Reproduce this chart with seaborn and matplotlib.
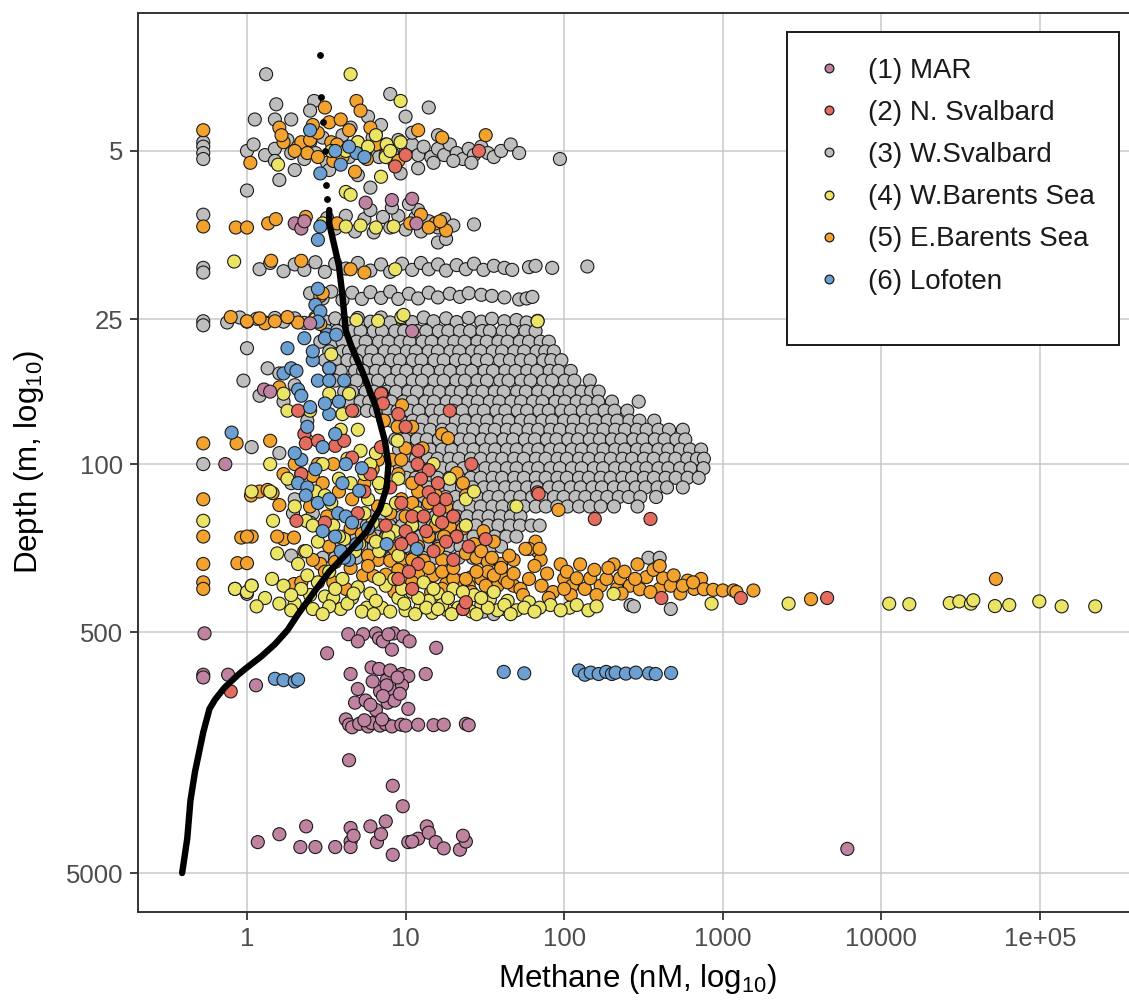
import matplotlib
matplotlib.use("Agg")
import matplotlib.pyplot as plt
import seaborn as sns
import pandas as pd
from matplotlib.lines import Line2D
from matplotlib.patches import Rectangle

# ---------------- categories / styling data ----------------
regions = ["(1) MAR", "(2) N. Svalbard", "(3) W.Svalbard",
           "(4) W.Barents Sea", "(5) E.Barents Sea", "(6) Lofoten"]
region_colors = ["#bf82a0", "#e46c5f", "#bebebe", "#ebe464", "#f2a22d", "#6ca0d2"]

x_ticks = [1, 10, 100, 1000, 10000, 100000]
x_tick_labels = ["1", "10", "100", "1000", "10000", "1e+05"]
y_ticks = [5, 25, 100, 500, 5000]
y_tick_labels = ["5", "25", "100", "500", "5000"]

# ---------------- (3) W.Svalbard : (methane nM, depth m) ----------------
wsv_shallow = [
    (1.32, 2.4), (1.53, 3.2), (2.65, 3.1), (8, 2.9), (14, 3.3), (10, 3.6), (5.8, 3.6),
    (1.12, 3.7), (1.5, 3.7), (1.9, 3.7), (2.5, 3.4),
    (0.53, 4.6), (0.53, 4.8), (0.53, 5.1), (0.53, 5.4),
    (1.0, 5.0), (1.1, 4.7), (1.3, 5.2), (1.5, 4.9), (1.5, 5.5), (1.8, 4.5), (1.9, 5.1),
    (2.1, 4.8), (2.3, 5.4), (2.5, 4.6), (2.7, 5.1), (3.0, 4.4), (3.2, 5.6), (3.6, 4.8),
    (4.0, 4.3), (4.4, 5.3), (5.0, 4.6), (5.6, 5.0), (6.2, 4.4), (6.8, 5.3), (7.5, 4.7),
    (8.2, 5.1), (9.0, 4.5), (10, 5.0), (11, 4.7), (12, 5.2), (13, 4.8), (14.5, 5.3),
    (16, 4.9), (17.5, 5.2), (19, 4.7), (21, 5.1), (23, 5.4), (25, 4.9), (27, 5.2),
    (30, 4.8), (33, 5.1), (36, 5.3), (40, 5.0), (46, 4.7), (52, 5.1), (94, 5.4),
    (8.5, 5.6), (15, 5.6), (20, 5.5), (26, 5.6), (4.5, 4.0), (6.5, 4.1), (11, 4.2),
    (16, 4.3), (7, 3.9), (1.0, 7.3), (1.6, 6.6), (9.3, 6.2), (6.0, 7.1), (3.3, 6.0),
    (5, 6.3), (12, 5.9), (2.0, 6.0),
    (0.53, 9.2), (3.2, 9.5), (3.6, 10.5), (4.2, 9.3), (4.8, 10.8), (5.5, 9.6), (6.3, 10.9),
    (7.2, 9.4), (8, 10.4), (9, 9.3), (10, 10.6), (11.5, 9.5), (12.5, 10.8), (14, 9.8),
    (16, 10.4), (17.5, 9.6), (20, 10.2), (27, 10.1), (16, 12), (18, 11.6), (6, 8.8),
    (8.2, 8.6), (12, 8.8), (10.5, 8.3),
    (0.53, 15.3), (0.53, 16.0), (1.2, 15.5), (1.4, 14.6), (1.7, 15.8), (2.0, 14.8),
    (2.3, 15.6), (2.7, 14.5), (3.1, 15.9), (3.6, 14.7), (4.2, 15.4), (5, 14.6), (6, 15.7),
    (7, 14.8), (8, 15.9), (9.5, 14.7), (11, 15.6), (12.5, 14.6), (14, 15.5), (16, 14.8),
    (18, 15.7), (21, 14.9), (24, 15.5), (27, 14.7), (31, 15.6), (36, 15.0), (42, 15.3),
    (47, 15.6), (60, 15.2), (66, 15.0), (84, 15.3), (140, 15.1),
    (2.5, 19.5), (3.0, 20.5), (3.4, 19.2), (4.0, 20.8), (4.6, 19.4), (5.3, 20.6), (6.0, 19.3),
    (7.0, 20.4), (8.0, 19.2), (9.0, 20.6), (10.5, 19.6), (12, 20.5), (14, 19.4), (16, 20.3),
    (19, 19.6), (22, 20.2), (25, 19.5), (30, 19.8), (35, 20.0), (42, 20.3), (52, 20.7),
    (58, 20.5), (63, 20.2),
    (0.53, 25.5), (0.53, 26.5), (0.75, 25.8), (0.9, 24.6), (1.0, 25.6), (1.15, 24.9),
    (1.3, 25.8), (1.5, 24.7), (1.7, 25.6), (2, 24.8), (2.3, 25.9), (2.7, 24.6), (3.1, 25.5),
    (3.6, 24.8), (4.2, 25.9), (5, 24.7), (6, 25.6), (7, 24.6), (8, 25.8), (9.5, 24.8),
    (11, 25.7), (13, 24.6), (15, 25.5), (18, 24.8), (21, 25.7), (25, 24.7), (30, 25.6),
    (35, 24.9), (42, 25.5), (50, 25.2), (58, 25.8), (68, 25.4),
    (1.0, 33), (0.95, 45), (1.07, 85), (1.6, 90), (1.9, 120), (1.35, 40), (1.6, 42),
    (2.0, 47), (1.2, 52), (1.7, 55), (2.4, 66), (2.0, 140), (2.6, 160), (0.53, 100),
    (1.9, 240), (1.0, 346), (1.95, 160), (2.5, 175), (31, 410), (36, 420), (42, 400),
    (262, 385), (275, 390), (470, 400),
]

# dense W.Svalbard cloud: one depth per row, methane values along that row
wsv_cloud_depth = [28, 31, 34, 37, 41, 45, 50, 55, 60, 66, 72, 79, 87, 95, 104,
                   114, 125, 137, 150, 165, 180, 200, 220, 245]
wsv_cloud_ch4 = [
    [3.2, 3.7, 4.6, 5.2, 6.3, 7.1, 8.6, 9.8, 11.9, 13.5, 16.2, 18.6, 22, 25.5, 30.5, 34, 41, 47, 57, 66],
    [2.9, 3.5, 4.0, 4.9, 5.6, 6.8, 7.8, 9.3, 10.6, 12.8, 14.6, 17.5, 20.3, 23.6, 28.4, 32.5, 38.5, 44, 52.5, 60, 71, 80],
    [3.3, 4.0, 4.4, 5.4, 6.1, 7.4, 8.5, 10.2, 11.6, 14, 16, 19.2, 21.8, 26.3, 29.7, 35.5, 40.6, 48.5, 56, 67, 76, 86],
    [3.1, 3.6, 4.3, 4.9, 5.9, 6.7, 8.1, 9.2, 11.1, 12.6, 15.2, 17.4, 20.8, 23.7, 28.3, 32.6, 39.4, 45.5, 53.5, 61.5, 74, 83, 96],
    [3.5, 3.9, 4.8, 5.4, 6.5, 7.4, 8.9, 10.1, 12.2, 13.8, 16.7, 19.1, 22.9, 26.1, 31.5, 35.6, 42.6, 49.4, 58.5, 67.5, 81, 92, 110],
    [3.6, 4.3, 4.9, 5.9, 6.7, 8.1, 9.3, 11.1, 12.7, 15.2, 17.4, 20.9, 23.7, 28.4, 32.6, 39.5, 44.6, 53.6, 61.3, 74, 84, 101, 116, 145],
    [4.1, 4.6, 5.6, 6.3, 7.6, 8.7, 10.4, 11.8, 14.2, 16.3, 19.5, 22.3, 26.8, 30.6, 36.5, 41.6, 50.5, 57.4, 68.6, 79, 94, 108, 129, 148, 165],
    [4.4, 5.2, 5.9, 7.1, 8.1, 9.7, 11, 13.3, 15.1, 18.2, 20.8, 24.9, 28.5, 34, 39, 46.5, 53.5, 63.7, 73, 88, 101, 120, 138, 164, 200, 295],
    [4.8, 5.7, 6.5, 7.8, 8.9, 10.6, 12.1, 14.6, 16.6, 19.9, 22.8, 27.3, 31.2, 37.4, 42.6, 51, 58.4, 69.8, 80, 96, 110, 131, 151, 180, 208, 250],
    [8.1, 9.3, 11.1, 12.8, 15.2, 17.4, 20.8, 23.8, 28.3, 32.7, 39, 44.6, 53.5, 61.4, 72.8, 84, 100, 115, 137, 158, 188, 216, 258, 298, 370],
    [9.1, 10.4, 12.4, 14.3, 17, 19.5, 23.2, 26.7, 31.9, 36.6, 43.5, 50, 59.6, 68.5, 81.8, 94, 112, 129, 153, 177, 210, 242, 287, 331, 393, 458, 560],
    [8.6, 9.9, 11.8, 13.6, 16.2, 18.6, 22.1, 25.4, 30.3, 34.7, 41.4, 47.6, 56.6, 65.4, 77.8, 89.5, 106, 122, 145, 168, 200, 229, 273, 314, 373, 430, 510, 580],
    [9.1, 10.4, 12.4, 14.3, 17, 19.5, 23.2, 26.8, 31.9, 36.7, 43.6, 50.2, 59.6, 68.6, 81.7, 94.2, 112, 129, 153, 177, 210, 241, 288, 331, 393, 453, 538, 622, 730],
    [10.1, 11.6, 13.8, 15.9, 18.9, 21.7, 25.8, 29.8, 35.4, 40.7, 48.4, 55.6, 66.4, 76.4, 90.8, 104, 124, 143, 170, 197, 233, 268, 319, 367, 436, 503, 598, 688, 760],
    [9.2, 10.4, 12.5, 14.3, 17, 19.6, 23.2, 26.8, 31.9, 36.7, 43.6, 50.1, 59.7, 68.5, 81.8, 94, 112, 129, 154, 176, 210, 242, 288, 330, 393, 453, 538, 625, 755],
    [10.1, 11.6, 13.8, 15.9, 18.9, 21.8, 25.8, 29.8, 35.4, 40.6, 48.4, 55.7, 66.3, 76.5, 90.7, 104, 124, 143, 170, 196, 233, 268, 319, 368, 436, 505, 600, 705],
    [12.1, 13.9, 16.6, 19.1, 22.7, 26.3, 31.2, 35.8, 42.5, 49.4, 58.5, 67.4, 80.4, 92.3, 110, 127, 151, 173, 206, 238, 283, 326, 388, 445, 560],
    [13.1, 15.1, 17.9, 20.6, 24.5, 28.3, 33.5, 38.6, 45.9, 52.8, 62.9, 72.4, 86.3, 99.2, 118, 136, 161, 187, 221, 255, 302, 380],
    [10.1, 11.6, 13.8, 15.9, 18.9, 21.8, 25.7, 29.8, 35.3, 40.8, 48.3, 55.8, 66.2, 76.6, 90.5, 105, 124, 145, 170, 206, 290],
    [6.1, 6.9, 8.3, 9.5, 11.3, 13, 15.4, 17.8, 21.1, 24.4, 28.9, 33.4, 39.6, 46.1, 53],
    [5.1, 5.7, 6.9, 7.9, 9.5, 10.9, 13, 14.8, 17.7, 20.4, 24.2, 27.8, 33.1, 38.5, 45.4, 52.6, 62, 70],
    [3.6, 4.1, 4.9, 5.5, 6.6, 7.5, 9, 10.3, 12.3, 14.2, 16.9, 19.4, 23.1, 26.8, 31.6, 36.5, 43.2, 50],
    [3.4, 3.9, 4.6, 5.3, 6.3, 7.2, 8.6, 9.9, 11.8, 13.6, 16.2, 18.7, 22.2, 25.7, 30.3, 34.8, 40],
    [3.0, 3.6, 4.3, 4.9, 5.9, 6.9, 8.1, 9.4, 11.2, 12.9, 15.2, 17.9, 21.6, 26.5, 30.5, 340, 400],
]

# ---------------- (5) E.Barents Sea ----------------
ebs_points = [
    (0.53, 4.1), (1.05, 5.6), (1.6, 4.0), (1.7, 4.6), (1.65, 4.3), (2.2, 4.6), (2.5, 4.5),
    (2.8, 4.2), (3.1, 3.3), (3.3, 3.8), (3.9, 3.7), (4.4, 4.1), (4.9, 3.1), (3.4, 4.6),
    (3.7, 4.7), (4.3, 4.9), (4.8, 6.1), (5.7, 5.4), (2.4, 5.1), (2.0, 5.0), (6.5, 4.7),
    (7.5, 5.2), (9, 5.5), (12, 4.1), (17, 4.4), (32, 4.3), (2.8, 5.3), (3.5, 5.5),
    (5.2, 3.4), (2.6, 3.9), (6.0, 4.0), (4.0, 5.3),
    (0.53, 10.3), (0.85, 10.4), (1.0, 10.4), (1.36, 10.0), (1.52, 9.6), (2.35, 9.4),
    (3.7, 10.0), (10.7, 10.0), (15.4, 10.0), (18, 10.7), (12.5, 9.2), (14, 10.4), (16.5, 9.8),
    (1.42, 14.3), (2.2, 14.3), (4.5, 15.5), (5.5, 16), (2.9, 20), (3.0, 19.5), (0.79, 24.5),
    (1.0, 25.5), (1.3, 26), (1.5, 25.5), (2.1, 25.8), (2.9, 26.2), (1.2, 24.8), (1.8, 24.5),
    (0.53, 82), (0.53, 140), (0.53, 200), (0.53, 260), (0.53, 310), (0.53, 330), (0.86, 82),
    (1.4, 80), (1.06, 135), (1.2, 130), (1.35, 128), (1.45, 132), (1.6, 148), (0.92, 202),
    (1.07, 200), (1.7, 205), (1.98, 202), (0.87, 258), (1.0, 258), (1.07, 320), (0.84, 330),
    (1.98, 315), (1.6, 48),
    (7.1, 51), (9.5, 57), (7.3, 66), (17, 75), (18.5, 78), (8.9, 70), (11, 70), (10, 86),
    (12.8, 86), (6.7, 96), (8.2, 96), (9.4, 96), (2, 100), (2.8, 100), (3.5, 100), (1.7, 110),
    (2.2, 110), (2.6, 112), (21, 109), (23, 120), (24, 135), (12, 130), (15.5, 135),
    (9.4, 140), (11, 145), (14, 145), (18, 150), (6.7, 150), (8, 160), (10, 165), (15.5, 180),
    (19, 182), (23, 185), (14, 200), (17.5, 200), (21, 200), (6, 200), (7.5, 202), (31, 190),
    (36, 210), (24, 235), (28, 245), (33, 255), (40, 260), (48, 250), (66, 210), (68, 230),
    (71, 250), (60, 225), (92, 155), (6.7, 250), (8, 252), (9.5, 248), (11, 250), (13, 252),
    (17, 250), (5.4, 290), (6.3, 292), (7.5, 288), (15, 290), (18, 315), (22, 305), (26, 295),
    (2.9, 260), (3.1, 280), (2.2, 310), (1.0, 200), (1.55, 200), (4, 240), (12, 220),
    (16, 225), (27, 215), (30, 230),
    (3.0, 120), (3.8, 130), (4.6, 140), (5.5, 120), (6.2, 105), (2.5, 150), (3.2, 165),
    (4.5, 185), (5.3, 195), (2.3, 230), (3.3, 220), (5.8, 240), (8.5, 225), (9, 110), (11, 120),
    (4.5, 270), (5.8, 265), (9, 275), (12, 285), (14, 270), (17, 280), (20, 300), (25, 320),
    (30, 300), (33, 280), (38, 320), (42, 300), (48, 320), (3.5, 310), (4.2, 330), (8.5, 340),
    (11, 310), (14.5, 340), (17, 330), (26, 340), (2.6, 250), (3.6, 255),
    (20, 270), (24, 300), (28, 280), (32, 320), (36, 290), (40, 270), (44, 310), (48, 285),
    (53, 330), (57, 225), (60, 300), (65, 265), (70, 225), (72, 320), (78, 285), (85, 340),
    (95, 261), (100, 300), (104, 280), (112, 320), (120, 298), (126, 261), (135, 330),
    (146, 298), (155, 275), (170, 320), (185, 300), (205, 261), (215, 330), (225, 298),
    (240, 280), (260, 320), (290, 261), (300, 331), (330, 295), (366, 275), (400, 330),
    (420, 298), (470, 320), (490, 290), (540, 345), (600, 305), (660, 330), (730, 300),
    (760, 331), (870, 333), (1000, 335), (1170, 335), (1220, 340), (1560, 335), (3600, 364),
    (52700, 300), (400, 265), (230, 345), (160, 350), (110, 350), (80, 360), (55, 350),
    (350, 340), (560, 320), (650, 310), (45, 240), (35, 245), (100, 330), (190, 270), (280, 300),
]

# ---------------- (4) W.Barents Sea ----------------
wbs_points = [
    (4.5, 2.4), (9.3, 3.1), (1.57, 5.7), (3.4, 5.0), (4.2, 5.0), (5.0, 4.6), (5.8, 4.8),
    (7.6, 4.7), (9.3, 4.6), (7.5, 5.3), (8, 5.0), (7, 6.4), (4.2, 7.4), (4.5, 7.6),
    (6.5, 4.3), (3, 10), (4.2, 10.3), (5.2, 10.2), (6.5, 10.4), (8.4, 10.3), (0.83, 14.4),
    (8.6, 15.5), (2.7, 25), (4.9, 25.2), (6.7, 25.4), (9.4, 24.5), (68, 25.5), (9.7, 24),
    (3.4, 35), (3.3, 40), (1.7, 51), (3.3, 51), (4.4, 51), (3.9, 72), (5, 72), (8.9, 80),
    (1.4, 100), (3, 100), (6, 100), (15, 100), (19, 115), (24, 140), (27, 130), (50, 150),
    (2.7, 130), (3.1, 135), (3.4, 145), (1.07, 130), (1.4, 130), (0.53, 172), (1.46, 172),
    (2.36, 172), (20, 165), (24, 180), (4.1, 205), (5.1, 215), (1.55, 235), (2.36, 230),
    (2.1, 260), (4.5, 120), (5.5, 110), (7, 125), (9, 115), (11, 180),
    (1.8, 60), (2.5, 60), (4, 62), (5.2, 88), (6.5, 90), (3.8, 115), (5.8, 140), (7.5, 155),
    (3.5, 180), (6.2, 175), (8.5, 190), (2.8, 210), (6.8, 230), (9, 240), (12, 160), (16, 170),
    (2.0, 150), (2.6, 180), (3.8, 200), (4.8, 230), (6.5, 210), (7.8, 200), (8.7, 145),
    (6.8, 120), (5.5, 160), (4.3, 95), (1.8, 115), (2.4, 80),
    (0.84, 330), (1.0, 340), (1.07, 320), (1.44, 300), (1.7, 320), (2.5, 350), (3.1, 355),
    (3.5, 360), (3.9, 400), (4.6, 360), (5.7, 395), (7.1, 395), (9, 360), (10, 405),
    (12.4, 395), (14.7, 415), (18.3, 405), (21.5, 395), (24, 380), (30, 385), (38, 405),
    (50, 405), (82, 385), (108, 395), (142, 405), (850, 380), (205, 346), (2.2, 330),
    (2.8, 310), (4, 300), (5, 325), (6, 345), (7.5, 320), (8.5, 300), (11, 340), (13, 310),
    (16, 345), (20, 330), (27, 350), (34, 365), (44, 370), (60, 375), (70, 395), (2, 380),
    (3.3, 390), (6.5, 370), (9.8, 380), (14, 370), (17, 385), (26, 410), (42, 385), (1.3, 360),
    (1.6, 380), (1.15, 390), (1.9, 405), (2.6, 400), (3.0, 420), (4.3, 380), (5.3, 410),
    (6.3, 420), (8, 410), (11.5, 420), (13.5, 395), (16, 400), (19.5, 420), (23, 400),
    (28, 420), (33, 395), (46, 420), (56, 395), (65, 410), (95, 405), (120, 385), (160, 390),
    (3.6, 330), (4.7, 345), (6.8, 300), (9.5, 330), (12, 360), (15, 330), (18.5, 360),
    (23, 340), (30, 360), (36, 340), (2.4, 290), (3.3, 280), (1.9, 350),
    (2600, 380), (11200, 380), (15000, 382), (27000, 378), (31000, 372), (36700, 380),
    (38000, 368), (52000, 389), (64000, 385), (99000, 372), (137000, 390), (223000, 390),
]

# ---------------- (2) N. Svalbard ----------------
nsv_points = [
    (29, 5.0), (10, 5.2), (8.6, 5.8), (2.1, 60), (2.3, 75), (2.35, 82), (2.2, 110), (2.8, 80),
    (2.05, 172), (3.1, 175), (3.6, 84), (4.1, 80), (4.6, 94), (7, 51), (7.2, 56), (9, 62),
    (10, 70), (19, 60), (11.9, 100), (14, 106), (14, 131), (16.3, 155), (11, 165), (13, 165),
    (8, 125), (9.4, 145), (10, 190), (11, 205), (9.4, 215), (9, 300), (11, 330), (23, 400),
    (24, 375), (32, 205), (20, 165), (21, 200), (68, 131), (156, 169), (350, 169), (26, 100),
    (410, 360), (1300, 360), (69, 133), (0.79, 880), (4550, 360), (6, 110), (7, 85),
    (5.5, 130), (12, 88), (16, 120), (18, 140), (5, 160), (7.5, 180), (4.6, 60),
    (12.5, 115), (15, 140), (17, 175), (13.5, 190), (18, 210), (15, 230), (20, 250),
    (25, 220), (12, 260), (10.5, 280),
]

# ---------------- (6) Lofoten ----------------
lof_points = [
    (4.9, 5.1), (3.9, 5.7), (2.9, 6.2), (5.5, 5.3), (4.4, 4.8), (3.6, 5.0), (2.5, 4.1),
    (2.8, 11.7), (2.9, 10.3), (2.8, 18.7), (2.7, 21.8), (2.9, 23.2), (2.8, 25.6), (3.2, 29),
    (3.1, 30), (3.65, 29), (2.6, 37), (3.3, 40), (1.7, 42), (1.9, 40), (2.8, 45), (3.3, 45),
    (4.1, 45), (3.3, 62), (3.1, 56), (2.5, 58), (0.8, 74), (3.0, 85), (2.2, 96), (4.2, 100),
    (5.3, 104), (5.1, 129), (2.1, 120), (2.4, 125), (2.35, 135), (2.8, 145), (3.3, 140),
    (3.75, 160), (4.2, 165), (4.6, 175), (3.6, 200), (4.9, 215), (7.6, 215), (11.8, 225),
    (4.4, 250), (4.1, 245), (2.1, 49), (2.05, 41), (2.4, 70), (3.6, 75), (2.0, 90),
    (4.0, 120), (1.8, 33), (2.3, 30), (2.6, 34), (2.2, 52), (3.8, 55), (2.7, 105),
    (3.0, 190), (3.9, 230), (5.8, 185),
    (1.5, 780), (1.7, 790), (2.0, 800), (2.1, 785), (41.6, 730), (56, 740), (124, 720),
    (135, 750), (147, 735), (165, 745), (184, 730), (200, 745), (211, 735), (245, 742),
    (283, 735), (343, 740), (378, 745), (472, 738),
]

# ---------------- (1) MAR ----------------
mar_points = [
    (2.0, 10), (2.2, 10.5), (2.3, 9.8), (5.6, 8.2), (8.2, 8.0), (11.7, 10), (11, 7.9),
    (11, 28), (1.28, 49), (1.4, 50), (0.73, 100), (2.5, 26),
    (4.35, 509), (5.4, 509), (6.5, 505), (6.8, 530), (7.2, 545), (8.4, 505), (9.7, 520),
    (10.6, 545), (8.2, 590), (15.6, 580), (3.2, 611), (0.54, 505), (5.0, 545), (7.8, 510),
    (0.53, 750), (0.53, 770), (0.76, 750), (1.14, 830), (4.5, 745), (6.1, 700), (7.6, 790),
    (9.5, 745), (10.4, 760), (13.4, 745), (5.0, 860), (6.9, 880), (8.4, 880), (4.8, 980),
    (5.6, 960), (7.7, 980), (8.5, 960), (10.4, 1040), (6.5, 1050), (4.2, 1150), (7.6, 830),
    (9.5, 830), (6.8, 710), (8, 720), (8.9, 770), (6.2, 800), (7.2, 920), (9.2, 900), (6.0, 1000),
    (4.4, 1210), (4.6, 1240), (5.1, 1200), (5.8, 1230), (6.1, 1190), (6.9, 1220), (7.5, 1200),
    (8.2, 1230), (9.4, 1210), (10, 1220), (12, 1210), (15, 1215), (17.4, 1210), (24, 1200),
    (25, 1215), (5.5, 1160), (7.1, 1150),
    (4.4, 1700), (8.3, 2170), (9.6, 2640),
    (1.17, 3720), (1.6, 3450), (2.36, 3200), (2.17, 3900), (2.7, 3900), (3.6, 3900),
    (4.5, 3250), (4.5, 3700), (4.5, 3900), (4.7, 3500), (6, 3200), (6.6, 3720), (7.5, 3050),
    (7.0, 3450), (8.3, 4200), (10.4, 3720), (12, 3600), (13.6, 3200), (14, 3400),
    (15.5, 3720), (17.4, 3950), (22, 4000), (24, 3700), (23, 3500), (11, 3700), (6100, 3970),
]

# ---------------- mean profile (black line) and shallow black dots ----------------
mean_depth = [8.8, 10, 15, 20, 28, 33, 42, 58, 80, 100, 125, 153, 190, 230, 280, 340, 420,
              490, 560, 630, 700, 750, 850, 950, 1040, 1300, 1900, 2500, 3600, 5000]
mean_ch4 = [3.3, 3.3, 3.8, 4.0, 4.2, 4.6, 5.4, 6.5, 7.4, 7.8, 7.6, 6.9, 5.7, 4.4, 3.3, 2.65,
            2.1, 1.8, 1.5, 1.23, 1.0, 0.88, 0.72, 0.63, 0.58, 0.53, 0.47, 0.44, 0.42, 0.39]
dot_depth = [2.0, 2.97, 3.8, 5.0, 6.9, 7.9]
dot_ch4 = [2.9, 2.95, 3.0, 3.1, 3.15, 3.2]

# ---------------- assemble table (drawing order) ----------------
rows = []
for x, d in wsv_shallow:
    rows.append((regions[2], x, d))
for d, xs in zip(wsv_cloud_depth, wsv_cloud_ch4):
    for x in xs:
        rows.append((regions[2], x, d))
for x, d in ebs_points:
    rows.append((regions[4], x, d))
for x, d in wbs_points:
    rows.append((regions[3], x, d))
for x, d in nsv_points:
    rows.append((regions[1], x, d))
for x, d in lof_points:
    rows.append((regions[5], x, d))
for x, d in mar_points:
    rows.append((regions[0], x, d))
df = pd.DataFrame(rows, columns=["region", "methane", "depth"])

# ---------------- style ----------------
sns.set_style("white")
plt.rcParams["font.family"] = ["Liberation Sans", "DejaVu Sans"]
plt.rcParams["mathtext.default"] = "regular"

W, H = 1129, 1002
fig = plt.figure(figsize=(W / 100, H / 100), dpi=100)
pl, pr, pt, pb = 138, 1138, 13, 912
ax = fig.add_axes([pl / W, 1 - pb / H, (pr - pl) / W, (pb - pt) / H])

sns.scatterplot(data=df, x="methane", y="depth", hue="region", hue_order=regions,
                palette=region_colors, s=88, edgecolor="#1a1a1a", linewidth=0.8,
                legend=False, ax=ax, zorder=2)
ax.plot(mean_ch4, mean_depth, color="black", lw=4.6, solid_capstyle="round",
        solid_joinstyle="round", zorder=3)
ax.scatter(dot_ch4, dot_depth, s=24, color="black", zorder=3, linewidths=0)

ax.set_xscale("log")
ax.set_yscale("log")
ax.set_xlim(0.2055, 4.15e5)
ax.set_ylim(7260, 1.336)

ax.set_xticks(x_ticks)
ax.set_xticklabels(x_tick_labels)
ax.set_yticks(y_ticks)
ax.set_yticklabels(y_tick_labels)
ax.minorticks_off()

ax.grid(True, which="major", color="#c9c9c9", lw=1.1)
ax.set_axisbelow(True)
for sp in ax.spines.values():
    sp.set_color("#333333")
    sp.set_linewidth(1.4)
ax.tick_params(axis="both", which="major", direction="out", length=5.5, width=1.3,
               color="#333333", labelcolor="#4d4d4d", labelsize=18.5, pad=5,
               bottom=True, left=True)

ax.set_xlabel("Methane (nM, log$_{10}$)", fontsize=22.5, color="black")
ax.set_ylabel("Depth (m, log$_{10}$)", fontsize=22.5, color="black")
ax.xaxis.set_label_coords((638 - pl) / (pr - pl), -(962 - pb) / (pb - pt))
ax.yaxis.set_label_coords(-(pl - 46) / (pr - pl), 0.5)

# ---------------- legend ----------------
frame = Rectangle((787 / W, 1 - 345 / H), 332 / W, 313 / H, transform=fig.transFigure,
                  facecolor="white", edgecolor="#1a1a1a", lw=1.4, zorder=4, clip_on=False)
ax.add_patch(frame)
handles = [Line2D([], [], ls="", marker="o", ms=6.3, mfc=c, mec="#1a1a1a", mew=0.9)
           for c in region_colors]
leg = ax.legend(handles, regions, loc="upper left",
                bbox_to_anchor=(815 / W, 1 - 58 / H), bbox_transform=fig.transFigure,
                frameon=False, fontsize=20, handlelength=1.0, handletextpad=0.9,
                labelspacing=0.58, borderpad=0, borderaxespad=0)
leg.set_zorder(5)
for t in leg.get_texts():
    t.set_color("#1a1a1a")

fig.savefig("out.png", dpi=100)
